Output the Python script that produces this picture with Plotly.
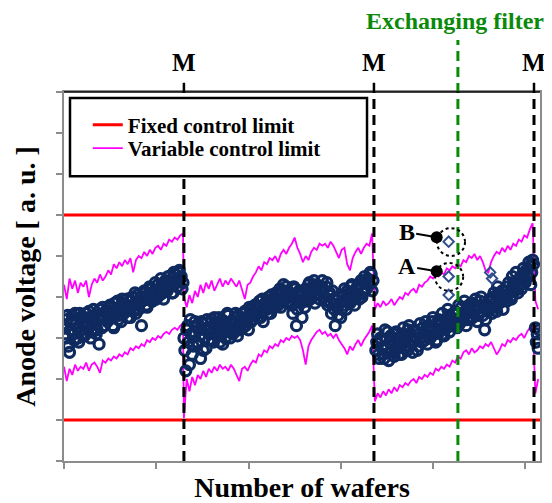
import plotly.graph_objects as go

# ---------------- data ----------------
X_MAX = 516          # wafers shown on the x axis
Y_MAX = 9            # arbitrary units
X_TICKS = [0, 100, 200, 300, 400, 500]
Y_TICKS = [0, 1, 2, 3, 4, 5, 6, 7, 8, 9]

M_LINES = [130, 336, 509.5]      # maintenance events ("M")
M_LABELS = ["M", "M", "M"]
FILTER_EXCHANGE = 427            # "Exchanging filter"
FIXED_LIMITS = [6, 1]            # fixed control limits (upper, lower)

# anode voltage; "a" lists hold even wafers, "b" lists odd wafers
anode_seg1_start = 0
anode_seg1a = [3.3, 3.0, 3.55, 2.65, 3.4, 3.1, 3.6, 3.25, 2.9, 3.5,
               3.35, 3.05, 3.6, 3.3, 3.45, 3.15, 3.7, 3.4, 3.2, 2.85,
               3.55, 3.75, 3.3, 3.6, 3.45, 3.8, 3.5, 3.25, 3.7, 3.9,
               3.55, 3.4, 3.85, 3.65, 3.95, 3.7, 3.5, 4.0, 3.8, 3.6,
               4.05, 3.85, 3.3, 3.95, 4.1, 3.75, 4.0, 4.2, 3.9, 4.15,
               3.95, 4.3, 4.05, 4.25, 3.95, 4.4, 4.15, 4.5, 4.3, 4.1,
               4.55, 4.35, 4.6, 4.45, 4.2]
anode_seg1b = [3.1, 3.45, 2.8, 3.2, 3.55, 2.95, 3.35, 3.0, 3.6, 3.2,
               3.1, 3.5, 3.25, 3.65, 3.0, 3.4, 3.55, 3.1, 3.45, 3.7,
               3.25, 3.5, 3.65, 3.4, 3.75, 3.55, 3.3, 3.85, 3.6, 3.45,
               3.75, 3.95, 3.6, 3.8, 3.5, 3.9, 3.75, 3.65, 4.1, 3.85,
               3.7, 4.0, 3.9, 4.15, 3.8, 4.05, 4.25, 3.9, 4.1, 4.35,
               4.0, 4.2, 4.45, 4.1, 4.3, 4.2, 4.5, 4.35, 4.1, 4.6,
               4.4, 4.25, 4.65, 4.5, 4.35]
anode_seg2_start = 130
anode_seg2a = [3.0, 2.2, 3.3, 2.35, 3.1, 2.8, 3.4, 2.9, 3.2, 2.5, 3.35, 3.0, 2.75, 3.25,
               3.1, 3.45, 2.9, 3.3, 3.05, 3.5, 3.2, 2.85, 3.4, 3.15, 3.55, 3.0, 3.35, 3.2, 3.6, 3.05, 3.3,
               3.5, 3.25, 3.65, 3.4, 3.2, 3.7, 3.45, 3.6,
               3.8, 3.5, 3.9, 3.65, 3.4, 3.85, 3.7, 4.0, 3.6, 3.95, 3.75,
               4.1, 3.8, 4.2, 3.9, 4.3, 3.95, 4.15, 3.85,
               4.0, 3.6, 4.2, 3.3, 3.9, 4.1, 3.5, 3.95,
               4.2, 3.9, 4.35, 4.0, 4.15, 3.85, 4.3, 4.05, 4.2,
               4.4, 4.0, 4.25, 3.8, 4.1, 3.6, 3.95, 3.3, 3.75, 4.0, 3.5,
               3.9, 4.2, 3.7, 4.05, 3.85, 4.3, 3.95, 4.1,
               4.25, 3.95, 4.4, 4.1, 4.5, 4.2, 4.35, 4.6, 4.15]
anode_seg2b = [2.7, 3.2, 2.9, 3.45, 2.6, 3.15, 3.3, 2.85, 3.05, 3.4, 2.7, 3.2, 3.45, 2.95,
               3.25, 2.95, 3.5, 3.2, 3.35, 2.9, 3.45, 3.3, 3.0, 3.6, 3.25, 3.4, 3.1, 3.5, 3.3, 3.55, 3.2,
               3.4, 3.6, 3.3, 3.5, 3.75, 3.4, 3.55, 3.8,
               3.6, 3.75, 3.5, 3.95, 3.7, 3.85, 3.6, 3.9, 4.05, 3.8, 3.95,
               3.9, 4.05, 3.75, 4.15, 4.0, 4.25, 3.9, 4.1,
               3.8, 4.25, 3.95, 3.7, 4.15, 3.85, 4.05, 3.75,
               4.1, 4.3, 3.95, 4.2, 4.4, 4.05, 4.25, 3.95, 4.15,
               4.2, 3.9, 4.35, 4.05, 3.85, 4.15, 3.7, 3.95, 3.55, 3.85, 3.7,
               4.05, 3.8, 4.15, 3.9, 4.25, 4.0, 3.8, 4.2,
               4.05, 4.3, 4.0, 4.35, 4.2, 4.45, 4.3, 4.55, 4.4]
anode_seg3_start = 338
anode_seg3a = [2.7, 3.1, 2.5, 2.95, 2.6, 3.2, 2.75, 2.45, 3.05, 2.85, 2.55, 3.15, 2.8,
               3.0, 2.6, 3.25, 2.9, 2.7, 3.3, 2.95, 2.65, 3.2, 3.0, 2.8,
               3.35, 2.9, 3.15, 3.4, 2.85, 3.25, 3.05, 3.5, 3.1, 2.95, 3.45,
               3.2, 3.6, 3.05, 3.4, 3.7, 3.15, 3.5, 3.3,
               3.65, 3.25, 3.8, 3.4, 3.55, 3.9, 3.3, 3.7,
               3.45, 3.85, 3.6, 3.95, 3.4, 3.75, 4.0, 3.55, 3.2, 3.8, 3.65,
               3.95, 3.6, 4.1, 3.75, 4.25, 3.85, 4.05, 3.7,
               4.15, 3.9, 4.35, 4.0, 4.5, 4.2, 4.6, 4.1,
               4.45, 4.2, 4.7, 4.35, 4.55, 4.85, 4.3, 4.9]
anode_seg3b = [2.9, 2.6, 3.0, 2.75, 2.5, 2.95, 3.15, 2.65, 2.85, 3.1, 2.7, 2.95, 2.6,
               2.85, 3.1, 2.75, 3.0, 3.2, 2.8, 3.05, 2.9, 3.15, 2.7, 3.1,
               3.0, 3.25, 2.95, 3.1, 3.3, 3.0, 3.4, 3.2, 2.9, 3.3, 3.15,
               3.35, 3.1, 3.45, 3.25, 3.55, 3.3, 3.4, 3.6,
               3.45, 3.6, 3.35, 3.75, 3.5, 3.65, 3.45, 3.8,
               3.65, 3.5, 3.8, 3.7, 3.55, 3.9, 3.65, 3.8, 3.45, 3.7, 3.9,
               3.75, 4.0, 3.85, 3.65, 4.05, 3.9, 4.15, 3.95,
               4.0, 4.25, 4.1, 3.95, 4.3, 4.15, 4.4, 4.25,
               4.3, 4.55, 4.4, 4.65, 4.5, 4.75, 4.6, 4.8]
anode_seg4_wafers = [511, 512, 513, 514, 515]
anode_seg4 = [3.25, 2.9, 3.1, 2.75, 3.2]

# isolated points near the filter exchange (A, B and a few others)
iso_wafers = [417, 417, 417, 462, 464]
iso_values = [5.35, 4.5, 4.05, 4.6, 4.45]

# variable control limit, one value every 3 wafers
var_seg_starts = [0, 130, 337, 511]
var_upper = [
    [4.3, 3.95, 4.45, 4.2, 4.4, 4.1, 4.35, 4.25, 4.4, 4.0,
     4.3, 4.45, 4.35, 4.55, 4.4, 4.5, 4.65, 4.55, 4.8, 4.7,
     4.85, 4.75, 4.9, 4.8, 4.95, 4.6, 4.9, 5.0, 4.95, 5.1,
     5.0, 5.15, 5.05, 5.2, 5.25, 5.15, 5.3, 5.25, 5.4, 5.35,
     5.45, 5.4, 5.5, 5.55],
    [4.0, 3.75, 4.05, 3.85, 4.15, 4.0, 4.3, 4.1, 4.35, 4.2,
     4.4, 4.15, 4.3, 4.45, 4.25, 4.4, 4.3, 4.45, 4.35, 4.25,
     4.4, 4.2, 3.95, 4.3, 4.35, 4.5, 4.6, 4.75, 4.65, 4.85,
     4.8, 4.95, 4.9, 5.0, 4.85, 5.05, 5.15, 5.05, 5.2, 5.3,
     5.45, 5.2, 5.05, 4.85, 5.0, 4.9, 5.1, 5.2, 5.15, 5.3,
     5.25, 5.3, 5.2, 5.35, 5.25, 5.1, 4.95, 5.15, 5.2, 4.8,
     4.65, 4.95, 5.1, 5.2, 5.05, 5.2, 5.3, 5.25, 5.55],
    [3.7, 3.85, 3.75, 3.9, 3.8, 3.85, 3.95, 3.8, 3.9, 4.0,
     3.95, 4.1, 4.05, 4.15, 4.2, 4.1, 4.3, 4.25, 4.35, 4.4,
     4.5, 4.45, 4.55, 4.5, 4.6, 4.55, 4.7, 4.65, 4.75, 4.7,
     4.8, 4.75, 4.9, 4.85, 5.0, 4.95, 5.05, 4.9, 5.0, 4.85,
     4.65, 4.6, 4.85, 5.0, 5.1, 5.05, 5.2, 5.1, 5.25, 5.15,
     5.3, 5.25, 5.4, 5.35, 5.5, 5.45, 5.65, 5.8],
    [3.9, 3.7],
]
var_lower = [
    [2.3, 1.95, 2.25, 2.1, 2.35, 2.2, 2.3, 2.25, 2.4, 2.2,
     2.35, 2.4, 2.3, 2.15, 2.45, 2.4, 2.5, 2.45, 2.55, 2.5,
     2.6, 2.55, 2.65, 2.6, 2.75, 2.7, 2.8, 2.75, 2.85, 2.8,
     2.95, 2.9, 3.0, 2.95, 3.05, 3.0, 3.1, 3.15, 3.1, 3.2,
     3.25, 3.2, 3.3, 3.35],
    [1.05, 2.0, 1.7, 2.05, 1.85, 2.1, 2.0, 2.2, 2.05, 2.25,
     2.15, 2.3, 2.2, 2.35, 2.25, 2.3, 2.2, 2.35, 2.25, 2.1,
     1.95, 2.25, 2.3, 2.2, 2.35, 2.45, 2.4, 2.6, 2.55, 2.7,
     2.65, 2.8, 2.75, 2.85, 2.8, 2.95, 2.9, 3.0, 2.95, 3.05,
     3.0, 3.05, 2.95, 2.7, 2.35, 2.8, 2.95, 3.05, 3.15, 3.2,
     3.1, 3.15, 3.05, 3.1, 3.0, 3.1, 2.95, 2.85, 2.75, 2.6,
     2.8, 2.7, 2.85, 2.95, 2.8, 2.95, 3.05, 3.15, 3.3],
    [1.45, 1.65, 1.55, 1.7, 1.6, 1.75, 1.65, 1.8, 1.7, 1.85,
     1.8, 1.9, 1.85, 1.95, 2.0, 1.9, 2.05, 2.0, 2.1, 2.05,
     2.15, 2.1, 2.25, 2.2, 2.3, 2.25, 2.35, 2.3, 2.45, 2.4,
     2.55, 2.5, 2.65, 2.7, 2.6, 2.75, 2.65, 2.7, 2.8, 2.75,
     2.85, 2.8, 2.9, 2.75, 2.6, 2.7, 2.85, 2.8, 2.95, 2.9,
     3.0, 2.95, 3.05, 3.1, 3.0, 3.15, 3.25, 3.35],
    [1.65, 2.0],
]

# annotated points A and B (dot position of the leader line)
AB_LABELS = ["B", "A"]
AB_DOT_WAFER = [404, 404]
AB_DOT_VALUE = [5.46, 4.63]
AB_CIRCLE_WAFER = [419.5, 417.5]
AB_CIRCLE_VALUE = [5.34, 4.49]

# ---------------- figure ----------------
NAVY = "#0f2a5f"
MAGENTA = "#ff00ff"
RED = "#ff0000"
GREEN = "#0a8a0a"
FONT = "Liberation Serif"


def wafers(start, n, step):
    return [start + step * i for i in range(n)]


anode_x = (wafers(anode_seg1_start, len(anode_seg1a), 2)
           + wafers(anode_seg1_start + 1, len(anode_seg1b), 2)
           + wafers(anode_seg2_start, len(anode_seg2a), 2)
           + wafers(anode_seg2_start + 1, len(anode_seg2b), 2)
           + wafers(anode_seg3_start, len(anode_seg3a), 2)
           + wafers(anode_seg3_start + 1, len(anode_seg3b), 2)
           + anode_seg4_wafers)
anode_y = (anode_seg1a + anode_seg1b + anode_seg2a + anode_seg2b
           + anode_seg3a + anode_seg3b + anode_seg4)

var_x, var_up_y, var_lo_y = [], [], []
for s, up, lo in zip(var_seg_starts, var_upper, var_lower):
    var_x += wafers(s, len(up), 3)
    var_up_y += up
    var_lo_y += lo

fig = go.Figure()

# fixed control limits
for i, lim in enumerate(FIXED_LIMITS):
    fig.add_trace(go.Scatter(
        x=[0, X_MAX], y=[lim, lim], mode="lines",
        line=dict(color=RED, width=3),
        name="Fixed control limit", legendgroup="fixed", legend="legend",
        showlegend=(i == 0), hoverinfo="skip"))

# variable control limits
fig.add_trace(go.Scatter(
    x=var_x, y=var_up_y, mode="lines",
    line=dict(color=MAGENTA, width=1.8),
    name="Variable control limit", legendgroup="var", legend="legend2",
    showlegend=True))
fig.add_trace(go.Scatter(
    x=var_x, y=var_lo_y, mode="lines",
    line=dict(color=MAGENTA, width=1.8),
    name="Variable control limit", legendgroup="var", legend="legend2",
    showlegend=False))

# anode voltage
fig.add_trace(go.Scatter(
    x=anode_x, y=anode_y, mode="markers",
    marker=dict(symbol="circle-open", size=10, color=NAVY,
                line=dict(width=3.2, color=NAVY)),
    name="Anode voltage", showlegend=False))
fig.add_trace(go.Scatter(
    x=iso_wafers, y=iso_values, mode="markers",
    marker=dict(symbol="diamond-open", size=8, color="#2f4f8f",
                line=dict(width=2, color="#2f4f8f")),
    name="Anode voltage", showlegend=False))

shapes = []
# maintenance lines
for xm in M_LINES:
    shapes.append(dict(type="line", xref="x", yref="paper", x0=xm, x1=xm,
                       y0=0, y1=1, layer="above",
                       line=dict(color="black", width=3, dash="10px,6px")))
    shapes.append(dict(type="line", xref="x", yref="paper", x0=xm, x1=xm,
                       y0=1, y1=1.025, layer="above",
                       line=dict(color="black", width=2.5)))
# filter exchange
shapes.append(dict(type="line", xref="x", yref="paper",
                   x0=FILTER_EXCHANGE, x1=FILTER_EXCHANGE, y0=0, y1=1.141,
                   layer="above",
                   line=dict(color=GREEN, width=3, dash="10px,6px")))
# top frame line
shapes.append(dict(type="line", xref="paper", yref="paper", x0=0, x1=1,
                   y0=1, y1=1, layer="above",
                   line=dict(color="black", width=1.5)))
# dotted circles around A and B
for cx, cy in zip(AB_CIRCLE_WAFER, AB_CIRCLE_VALUE):
    shapes.append(dict(type="circle", xref="x", yref="y",
                       x0=cx - 15.2, x1=cx + 15.2, y0=cy - 0.34, y1=cy + 0.34,
                       layer="above",
                       line=dict(color="black", width=2, dash="dot")))
# legend box
shapes.append(dict(type="rect", xref="paper", yref="paper",
                   x0=0.0126, x1=0.6366, y0=0.772, y1=0.984, layer="above",
                   fillcolor="white", line=dict(color="black", width=2.5)))

annotations = []
for xm, lab in zip(M_LINES, M_LABELS):
    annotations.append(dict(x=xm, y=1.081, xref="x", yref="paper", text=lab,
                            showarrow=False, xanchor="center", yanchor="middle",
                            font=dict(family=FONT, size=25, color="black",
                                      weight="bold")))
annotations.append(dict(x=(455 - 64) / 476, y=1.192, xref="paper", yref="paper",
                        text="Exchanging filter", showarrow=False,
                        xanchor="center", yanchor="middle",
                        font=dict(family=FONT, size=24, color=GREEN,
                                  weight="bold")))
for lab, dx, dy in zip(AB_LABELS, AB_DOT_WAFER, AB_DOT_VALUE):
    annotations.append(dict(x=dx, y=dy, xref="x", yref="y", text=lab,
                            showarrow=True, arrowhead=6, arrowsize=1.5,
                            arrowwidth=2, arrowcolor="black",
                            ax=-30, ay=-5, xanchor="center",
                            font=dict(family=FONT, size=24, color="black",
                                      weight="bold")))

legend_font = dict(family=FONT, size=21, color="black", weight="bold")
# the page body has an 8px margin; the figure is offset by it
fig.update_layout(
    width=544, height=495,
    margin=dict(l=56, r=12, t=84, b=42, autoexpand=False),
    paper_bgcolor="white", plot_bgcolor="white",
    shapes=shapes, annotations=annotations,
    showlegend=True,
    legend=dict(x=0.05, y=0.966, xanchor="left", yanchor="top",
                bgcolor="rgba(0,0,0,0)", borderwidth=0, font=legend_font),
    legend2=dict(x=0.05, y=0.9025, xanchor="left", yanchor="top",
                 bgcolor="rgba(0,0,0,0)", borderwidth=0, font=legend_font),
    hovermode=False,
)
fig.update_xaxes(
    range=[0, X_MAX], tickvals=X_TICKS, showticklabels=False,
    ticks="outside", ticklen=6, tickwidth=1.5, tickcolor="#8c8c8c",
    showline=True, linecolor="#8c8c8c", linewidth=2, mirror=True,
    showgrid=False, zeroline=False, automargin=False,
    title=dict(text="Number of wafers", standoff=16,
               font=dict(family=FONT, size=28, color="black", weight="bold")))
fig.update_yaxes(
    range=[0, Y_MAX], tickvals=Y_TICKS, showticklabels=False,
    ticks="outside", ticklen=6, tickwidth=1.5, tickcolor="#8c8c8c",
    showline=True, linecolor="#8c8c8c", linewidth=2, mirror=True,
    showgrid=False, zeroline=False, automargin=False,
    title=dict(text="Anode voltage [ a. u. ]", standoff=12,
               font=dict(family=FONT, size=28, color="black", weight="bold")))

fig.write_html("out.html")
